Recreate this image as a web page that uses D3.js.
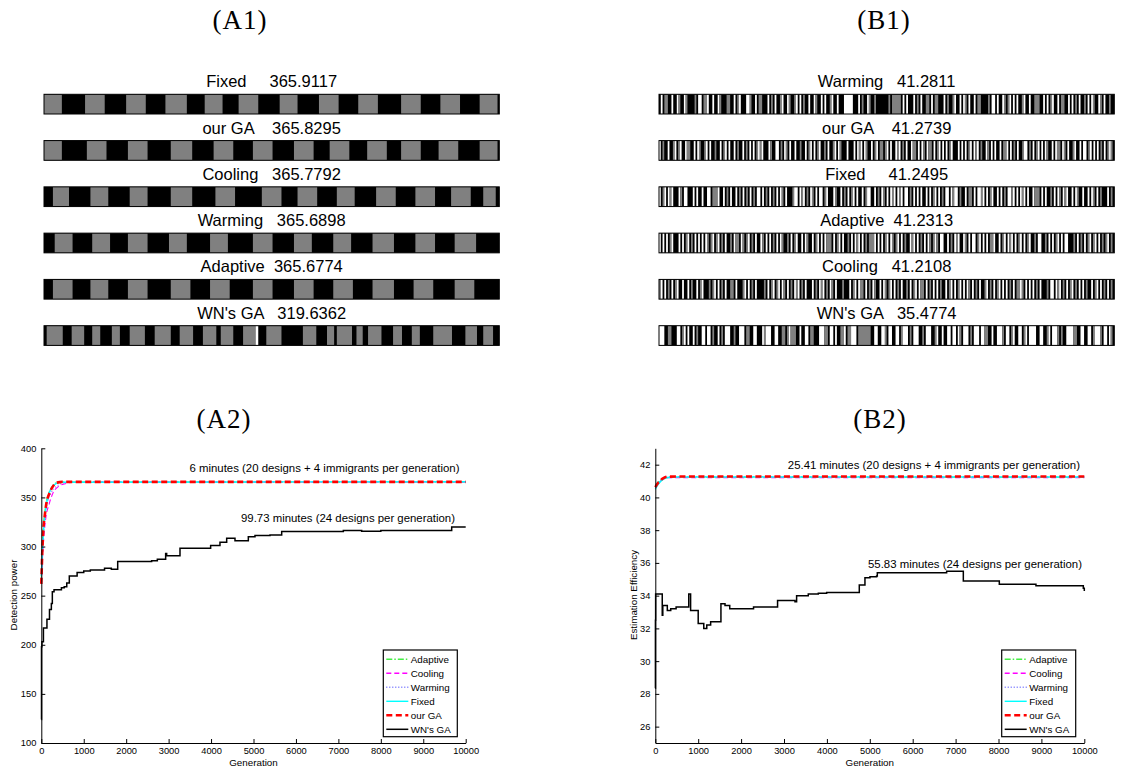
<!DOCTYPE html>
<html>
<head>
<meta charset="utf-8">
<script src="https://cdn.jsdelivr.net/npm/d3@7"></script>
<style>
  body { margin: 0; background: #fff; }
  text { font-family: "Liberation Sans", Arial, sans-serif; fill: #000; }
  .panelTitle { font-family: "Liberation Serif", "DejaVu Serif", serif; font-size: 27px; letter-spacing: 1px; }
</style>
</head>
<body>
<div id="fig"></div>
<script>
// ---------- data ----------

// top row: best design of each method and its score
var namesA1 = ["Fixed", "our GA", "Cooling", "Warming", "Adaptive", "WN's GA"];
var scoresA1 = [365.9117, 365.8295, 365.7792, 365.6898, 365.6774, 319.6362];
var namesB1 = ["Warming", "our GA", "Fixed", "Adaptive", "Cooling", "WN's GA"];
var scoresB1 = [41.2811, 41.2739, 41.2495, 41.2313, 41.2108, 35.4774];

// design length (events); 0 = black, 1 = gray, 2 = white
var designLength = 255;

// A1 designs: non-black stretches [start, end, code]
var a1Fixed = [[0,10,1],[23,34,1],[46,57,1],[68,80,1],[90,100,1],[109,120,1],[132,142,1],[154,165,1],[176,187,1],[200,211,1],[222,233,1],[244,254,1]];
var a1OurGA = [[0,10,1],[24,35,1],[47,58,1],[71,83,1],[95,106,1],[117,128,1],[140,151,1],[160,171,1],[181,192,1],[200,211,1],[221,232,1],[244,254,1]];
var a1Cooling = [[5,14,1],[26,36,1],[48,58,1],[71,83,1],[96,107,1],[122,133,1],[142,153,1],[164,174,1],[186,197,1],[208,219,1],[228,239,1],[246,253,1]];
var a1Warming = [[6,16,1],[27,37,1],[47,58,1],[70,80,1],[93,103,1],[117,128,1],[140,150,1],[162,172,1],[184,196,1],[208,219,1],[230,242,1]];
var a1Adaptive = [[5,16,1],[26,36,1],[47,58,1],[71,82,1],[93,104,1],[117,128,1],[140,151,1],[162,173,1],[184,196,1],[207,218,1],[230,241,1]];
var a1WN = [[1.5,10.5,1],[15.5,22.5,1],[27,31.5,1],[38,42.5,1],[48,56.5,1],[62,71,1],[76,83.5,1],[89,96.5,1],[99,106,1],[111.5,118.5,1],[118.5,120,2],[124.5,133,1],[145,152.5,1],[158.5,162.5,1],[164,172.5,1],[175,178.5,1],[181.5,189,1],[195.5,200.5,1],[206,210.5,1],[218,228.5,1],[236,242.5,1],[246,251.5,1]];

// B1 designs: one code per event
var b1Warming = "0201100200210021000010220112002002100011002012000221002011000201020012002100120201002002100202001200200022222000201002100100000001011111020200020102001102011000201001200202102002011000010220200210120202001200200111002020120020110020201020010202100210200100";
var b1OurGA = "2010020012012002110020210012020010020120200201002010202012120002100220102102002001002012020120010200120210002000202120210020120110120200212010200211020210211020120202012000202020120212010021020200201120201020012201020120202100202110210200120020220120202010201210";
var b1Fixed = "2012021200021022000202002002201112002010200201020102010220201020102021020001220212010210202201200021002010201202002012200201021020212021202201020202002020120201022021220100201102022120201200202010221202021202002111020200102021021200202100200202102010002010";
var b1Adaptive = "2020201200020201201020202021012012010200102110210120102002102020102021001020120020210020120202111020120200102021202010111202020120210120201002120201020210121022002010212002102022012020201120020120212020120201200102200102020120202200010201020120120201012010";
var b1Cooling = "1202010201200200201002012000101202010200110200012020102000010201201202102010212010200020102120102102000100020120211020102100202101202010200102012021102010202010020120201202021020102001201020120202010201121020202010200010220212010201201020201002012020102010";
var b1WN = "2220011000220120200201002202201002010222001002220110022000212220022001101211100200220110002221102202001120112220111111100220022102200220122201022200102220012002002202202102220102220221100200222102201200220120222200220012022210100222211002200220122210220210";

// bottom row: convergence curves, [generation, value]
var a2Adaptive = [[0,265],[20,295],[50,322],[80,334],[120,346],[190,356],[270,362],[360,365],[500,365.6],[10000,365.68]];
var a2Cooling = [[0,262],[30,290],[60,310],[100,327],[190,344],[270,354],[400,361],[600,364.4],[850,365.6],[10000,365.78]];
var a2Warming = [[0,265],[30,295],[60,318],[100,334],[160,347],[250,356],[350,361],[500,364.5],[700,365.5],[10000,365.69]];
var a2Fixed = [[0,270],[30,300],[60,320],[100,337],[180,354],[300,362.7],[450,365.4],[10000,365.91]];
var a2OurGA = [[0,262],[20,290],[50,318],[80,331],[120,344],[190,354],[270,361],[360,365],[500,365.8],[10000,365.83]];
var a2WN = [[0,124],[5,198],[15,203],[50,217],[133,226],[193,236],[237,242],[260,254],[300,256],[474,258],[540,259],[600,263],[660,270],[844,273.5],[1000,275],[1155,276],[1490,278],[1650,277],[1800,284.7],[2600,285.5],[2734,287],[2930,292.9],[2954,290.5],[3268,298.3],[3990,301],[4210,304.4],[4368,308.5],[4564,306],[4878,310],[5035,311.2],[5389,311.8],[5664,315.3],[7117,316.3],[7549,315.5],[8000,316.3],[9670,320],[10000,320]];

var b2Adaptive = [[0,40.7],[80,40.98],[190,41.17],[300,41.22],[500,41.23],[10000,41.231]];
var b2Cooling = [[0,40.6],[80,40.9],[190,41.13],[300,41.2],[500,41.21],[10000,41.211]];
var b2Warming = [[0,40.65],[80,40.95],[190,41.18],[300,41.26],[500,41.28],[10000,41.281]];
var b2Fixed = [[0,40.5],[80,40.85],[190,41.12],[300,41.22],[500,41.245],[10000,41.25]];
var b2OurGA = [[0,40.63],[80,40.94],[190,41.18],[300,41.27],[500,41.274],[10000,41.274]];
var b2WN = [[0,28.35],[3,32.5],[8,34.1],[162,32.8],[175,33.4],[280,33.1],[360,33.2],[485,33.3],[780,34.1],[823,33.1],[1000,32.3],[1130,32.0],[1200,32.2],[1290,32.4],[1530,33.5],[1625,33.4],[1735,33.2],[2290,33.3],[2850,33.7],[3256,33.63],[3294,34.0],[3566,34.1],[3800,34.15],[3994,34.2],[4755,34.65],[4887,35.1],[5004,35.15],[5159,35.2],[5175,35.4],[6791,35.49],[7180,34.9],[8019,34.7],[8873,34.6],[9977,34.45],[10000,34.28]];

var legendNames = ["Adaptive", "Cooling", "Warming", "Fixed", "our GA", "WN's GA"];
var notesA2 = ["6 minutes (20 designs + 4 immigrants per generation)", "99.73 minutes (24 designs per generation)"];
var notesB2 = ["25.41 minutes (20 designs + 4 immigrants per generation)", "55.83 minutes (24 designs per generation)"];
var genTicks = d3.range(0, 10001, 1000);
var a2Ticks = d3.range(100, 401, 50);
var b2Ticks = d3.range(26, 43, 2);

// ---------- styles ----------
var codeColor = ["#000000", "#808080", "#ffffff"];
var lineStyles = [
  { color: "#44ee44", width: 1.1, dash: "6,2,1.5,2" },
  { color: "#ff00ff", width: 1.1, dash: "5,3" },
  { color: "#7070ff", width: 1.1, dash: "1,2" },
  { color: "#00ffff", width: 1.4, dash: null },
  { color: "#ff0000", width: 2.6, dash: "6,3.5" },
  { color: "#000000", width: 1.5, dash: null }
];

var svg = d3.select("#fig").append("svg")
  .attr("width", 1133)
  .attr("height", 772);

// panel titles
[["(A1)", 240, 29], ["(B1)", 884, 29], ["(A2)", 224, 428], ["(B2)", 880, 428]].forEach(function(t) {
  svg.append("text").attr("class", "panelTitle")
    .attr("x", t[1]).attr("y", t[2])
    .attr("text-anchor", "middle")
    .text(t[0]);
});

// ---------- top row: design bars ----------
function runsOf(str) {
  var runs = [], start = 0;
  for (var i = 1; i <= str.length; i++) {
    if (i === str.length || str[i] !== str[start]) {
      runs.push([start, i, +str[start]]);
      start = i;
    }
  }
  return runs;
}

function drawBars(left, right, names, scores, designs) {
  var x = d3.scaleLinear().domain([0, designLength]).range([left, right]);
  var rowY = d3.scaleLinear().domain([0, 5]).range([94.3, 325.7]);
  var barH = 19.7;

  names.forEach(function(name, i) {
    var g = svg.append("g").attr("transform", `translate(0, ${rowY(i)})`);
    g.append("text")
      .attr("x", (left + right) / 2)
      .attr("y", -7)
      .attr("text-anchor", "middle")
      .style("font-size", "16.5px")
      .style("white-space", "pre")
      .text(name.padEnd(9) + " " + scores[i].toFixed(4));

    g.append("rect")
      .attr("x", x(0)).attr("y", 0)
      .attr("width", x(designLength) - x(0)).attr("height", barH)
      .attr("fill", codeColor[0]);

    g.selectAll("rect.seg")
      .data(designs[i].filter(d => d[2] !== 0))
      .enter()
      .append("rect")
      .attr("class", "seg")
      .attr("x", d => x(d[0]))
      .attr("y", 0)
      .attr("width", d => x(d[1]) - x(d[0]))
      .attr("height", barH)
      .attr("fill", d => codeColor[d[2]]);

    g.append("rect")
      .attr("x", x(0)).attr("y", 0)
      .attr("width", x(designLength) - x(0)).attr("height", barH)
      .attr("fill", "none")
      .attr("stroke", "#000")
      .attr("stroke-width", 1);
  });
}

drawBars(44, 499.3, namesA1, scoresA1, [a1Fixed, a1OurGA, a1Cooling, a1Warming, a1Adaptive, a1WN]);
drawBars(659, 1114.3, namesB1, scoresB1,
  [b1Warming, b1OurGA, b1Fixed, b1Adaptive, b1Cooling, b1WN].map(function(s) {
    return runsOf(s).map(d => [d[0] * designLength / s.length, d[1] * designLength / s.length, d[2]]);
  }));

// ---------- bottom row: convergence plots ----------
function drawPlot(opt) {
  var x = d3.scaleLinear().domain([0, 10000]).range([opt.left, opt.right]);
  var y = d3.scaleLinear().domain(opt.yDomain).range([743, 448.3]);

  var chart = svg.append("g");

  var smooth = d3.line().x(d => x(d[0])).y(d => y(d[1])).curve(d3.curveMonotoneX);
  var step = d3.line().x(d => x(d[0])).y(d => y(d[1])).curve(d3.curveStepAfter);

  opt.series.forEach(function(s, i) {
    var st = lineStyles[i];
    chart.append("path")
      .attr("d", i === 5 ? step(s) : smooth(s))
      .attr("fill", "none")
      .attr("stroke", st.color)
      .attr("stroke-width", st.width)
      .attr("stroke-dasharray", st.dash);
  });

  // axes, ticks pointing inward like the original
  var xAxis = chart.append("g")
    .attr("transform", "translate(0,743)")
    .call(d3.axisBottom(x).tickValues(genTicks).tickFormat(d3.format("d"))
      .tickSize(-4).tickSizeOuter(0).tickPadding(4));
  var yAxis = chart.append("g")
    .attr("transform", `translate(${opt.left},0)`)
    .call(d3.axisLeft(y).tickValues(opt.yTicks).tickFormat(d3.format("d"))
      .tickSize(-4).tickSizeOuter(0).tickPadding(5));
  [xAxis, yAxis].forEach(function(a) {
    a.attr("font-family", null).attr("font-size", null);
    a.selectAll("text").style("font-size", "9.3px").attr("fill", "#000");
    a.selectAll("line, path").attr("stroke", "#000");
  });

  chart.append("text")
    .attr("x", (opt.left + opt.right) / 2)
    .attr("y", 766)
    .attr("text-anchor", "middle")
    .style("font-size", "9.8px")
    .text("Generation");

  chart.append("text")
    .attr("transform", `translate(${opt.yLabelX}, 595) rotate(-90)`)
    .attr("text-anchor", "middle")
    .style("font-size", "9.8px")
    .text(opt.yLabel);

  // run time notes
  opt.notes.forEach(function(n, i) {
    chart.append("text")
      .attr("x", opt.notePos[i][0])
      .attr("y", opt.notePos[i][1])
      .attr("text-anchor", "end")
      .style("font-size", "11.4px")
      .text(n);
  });

  // legend
  var lg = chart.append("g").attr("transform", `translate(${opt.legendX}, 650)`);
  lg.append("rect")
    .attr("width", 74).attr("height", 86.7)
    .attr("fill", "#fff").attr("stroke", "#000").attr("stroke-width", 1.2);
  legendNames.forEach(function(name, i) {
    var st = lineStyles[i];
    var cy = 9.3 + i * 14;
    lg.append("line")
      .attr("x1", 3).attr("x2", 25)
      .attr("y1", cy).attr("y2", cy)
      .attr("stroke", st.color)
      .attr("stroke-width", Math.max(st.width, 1.4))
      .attr("stroke-dasharray", st.dash);
    lg.append("text")
      .attr("x", 27.5).attr("y", cy + 3.5)
      .style("font-size", "9.8px")
      .text(name);
  });
}

drawPlot({
  left: 41.3, right: 465.7,
  yDomain: [100, 400], yTicks: a2Ticks,
  yLabel: "Detection power", yLabelX: 17,
  series: [a2Adaptive, a2Cooling, a2Warming, a2Fixed, a2OurGA, a2WN],
  notes: notesA2, notePos: [[459.5, 472], [455, 522]],
  legendX: 383.3
});

drawPlot({
  left: 655.3, right: 1084.3,
  yDomain: [25, 43], yTicks: b2Ticks,
  yLabel: "Estimation Efficiency", yLabelX: 637,
  series: [b2Adaptive, b2Cooling, b2Warming, b2Fixed, b2OurGA, b2WN],
  notes: notesB2, notePos: [[1080, 469], [1082, 568]],
  legendX: 1001.7
});
</script>
</body>
</html>
